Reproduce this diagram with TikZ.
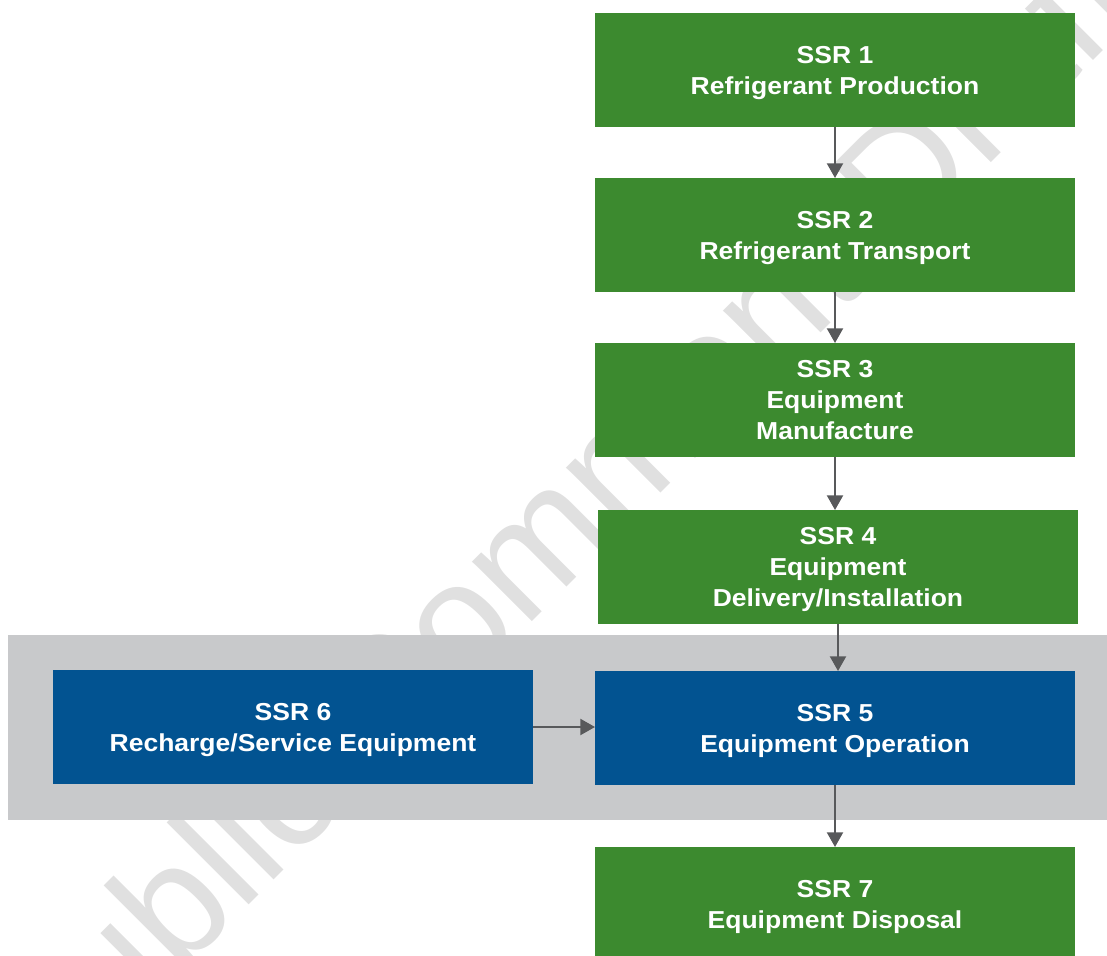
\documentclass[tikz,border=0pt]{standalone}
\usepackage{fontspec}
\setmainfont{Liberation Sans}[FakeStretch=1.08]
\newfontfamily\markfont{Liberation Sans}
\usetikzlibrary{arrows.meta}
\definecolor{ssrgreen}{HTML}{3C8A2F}
\definecolor{ssrblue}{HTML}{025391}
\definecolor{bandgray}{HTML}{C8C9CB}
\definecolor{arrowgray}{HTML}{58595B}
\definecolor{markgray}{HTML}{E0E0E0}
\begin{document}
\begin{tikzpicture}[x=0.75pt,y=-0.75pt,
    ssrbox/.style={minimum width=360pt, minimum height=85.5pt, inner sep=0pt, outer sep=0pt,
      text=white, align=center, text depth=-3pt, font=\fontsize{18.4}{23.25}\selectfont\bfseries},
    flow/.style={draw=arrowgray, line width=1.6pt, -{Triangle[width=12pt,length=11pt]}}]
%		    \draw[help lines] (0,0) grid (1107,956);
			\useasboundingbox (0,0) rectangle (1107,956);
			\begin{scope}
				\clip (0,0) rectangle (1107,956);
				\node[anchor=base west, rotate=45, inner sep=0pt, text=markgray, font=\markfont\fontsize{120}{120}\selectfont] (draftmark) at (40,1114) {Public Comment Draft};
			\end{scope}
			\fill[bandgray] (8,635) rectangle (1107,820);
			\node[ssrbox, fill=ssrgreen] (ssr1) at (835,70) {SSR 1\\Refrigerant Production};
			\node[ssrbox, fill=ssrgreen] (ssr2) at (835,235) {SSR 2\\Refrigerant Transport};
			\node[ssrbox, fill=ssrgreen] (ssr3) at (835,400) {SSR 3\\Equipment\\Manufacture};
			\node[ssrbox, fill=ssrgreen] (ssr4) at (838,567) {SSR 4\\Equipment\\Delivery/Installation};
			\node[ssrbox, fill=ssrblue] (ssr5) at (835,728) {SSR 5\\Equipment Operation};
			\node[ssrbox, fill=ssrblue] (ssr6) at (293,727) {SSR 6\\Recharge/Service Equipment};
			\node[ssrbox, fill=ssrgreen] (ssr7) at (835,904) {SSR 7\\Equipment Disposal};
			\draw[flow] (ssr1) -- (ssr2);
			\draw[flow] (ssr2) -- (ssr3);
			\draw[flow] (ssr3) -- (ssr3 |- ssr4.north);
			\draw[flow] (ssr4) -- (ssr4 |- ssr5.north);
			\draw[flow] (ssr5) -- (ssr7);
			\draw[flow] (ssr6) -- (ssr6 -| ssr5.west);
		\end{tikzpicture}
\end{document}
